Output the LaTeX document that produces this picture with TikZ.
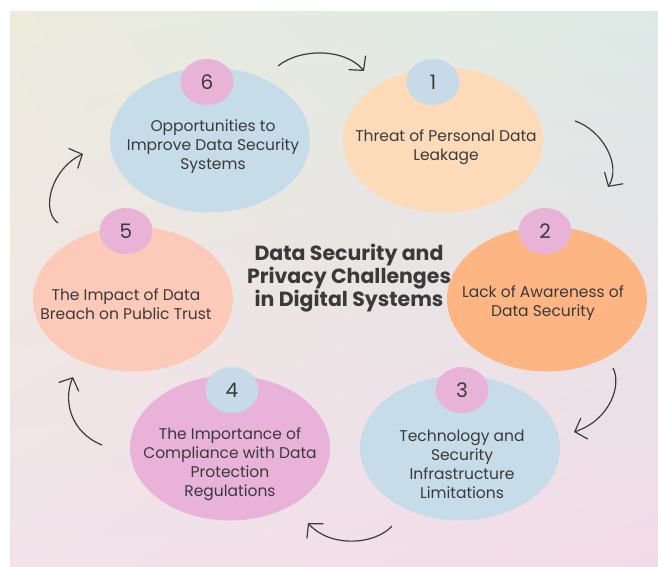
\documentclass[tikz,border=0pt]{standalone}
\usepackage{fontspec}
\setmainfont{Poppins}
\usetikzlibrary{shapes.geometric,arrows.meta,shadings}
\definecolor{bgUL}{HTML}{ECEBDC}
\definecolor{bgUR}{HTML}{DCEAE6}
\definecolor{bgLL}{HTML}{F2E3EA}
\definecolor{bgLR}{HTML}{F2DBE8}
\definecolor{blobblue}{HTML}{C6DCE8}
\definecolor{blobpeach}{HTML}{FDDBB8}
\definecolor{bloborange}{HTML}{FDB583}
\definecolor{blobpink}{HTML}{E8B2D9}
\definecolor{blobsalmon}{HTML}{FDC9B9}
\definecolor{circpink}{HTML}{E9B3D8}
\definecolor{circblue}{HTML}{C6DAE8}
\definecolor{txtgray}{HTML}{3A3A3A}
\definecolor{arrowgray}{HTML}{3C3C3C}
\begin{document}
\begin{tikzpicture}[x=1pt,y=-1pt,
  blob/.style={ellipse, inner sep=0pt, minimum width=200pt, minimum height=145pt},
  numcirc/.style={ellipse, inner sep=0pt, minimum width=53pt, minimum height=46pt,
    font=\fontsize{20}{20}\selectfont, text=txtgray},
  label/.style={align=center, text=txtgray, font=\fontsize{15.5}{19}\selectfont, inner sep=0pt},
  titletext/.style={align=center, text=txtgray, font=\bfseries\fontsize{20.5}{19.5}\selectfont, inner sep=0pt},
  cyclearrow/.style={draw=arrowgray, line width=1.2pt, -{Straight Barb[length=10pt,width=22pt,line width=1.2pt]}}
]
\useasboundingbox (0,0) rectangle (658,567);
\fill[white] (0,0) rectangle (658,567);
\shade[upper left=bgUL, upper right=bgUR, lower left=bgLL, lower right=bgLR] (10,12) rectangle (658,567);

% blobs
\node[blob, fill=blobblue]   (b6) at (210,140) {};
\node[blob, fill=blobpeach]  (b1) at (443,140) {};
\node[blob, fill=bloborange] (b2) at (547,299) {};
\node[blob, fill=blobblue]   (b3) at (460,448) {};
\node[blob, fill=blobpink]   (b4) at (230,448) {};
\node[blob, fill=blobsalmon] (b5) at (133,299) {};

% number circles
\node[numcirc, fill=circpink] (n6) at (207,82) {6};
\node[numcirc, fill=circblue] (n1) at (433,82) {1};
\node[numcirc, fill=circpink] (n2) at (545,231) {2};
\node[numcirc, fill=circpink] (n3) at (462,390) {3};
\node[numcirc, fill=circblue] (n4) at (232,390) {4};
\node[numcirc, fill=circpink] (n5) at (126,231) {5};

% labels
\node[label] (t6) at (213,147) {Opportunities to\\Improve Data Security\\Systems};
\node[label] (t1) at (446,147) {Threat of Personal Data\\Leakage};
\node[label] (t2) at (543,303) {Lack of Awareness of\\Data Security};
\node[label] (t3) at (462,464) {Technology and\\Security\\Infrastructure\\Limitations};
\node[label] (t4) at (230,464) {The Importance of\\Compliance with Data\\Protection\\Regulations};
\node[label] (t5) at (126,304) {The Impact of Data\\Breach on Public Trust};

\node[titletext] (title) at (349,278) {Data Security and\\Privacy Challenges\\in Digital Systems};

% arrow end points
\coordinate (a1s) at (278,66);  \coordinate (a1e) at (364,71);
\coordinate (a2s) at (575,121); \coordinate (a2e) at (608,187);
\coordinate (a3s) at (613,368); \coordinate (a3e) at (574,432);
\coordinate (a4s) at (392,526); \coordinate (a4e) at (308,523);
\coordinate (a5s) at (102,445); \coordinate (a5e) at (73,377);
\coordinate (a6s) at (58,223);  \coordinate (a6e) at (83,154);

\draw[cyclearrow] (a1s) .. controls (300,48) and (345,48) .. (a1e);
\draw[cyclearrow] (a2s) .. controls (602,130) and (622,165) .. (a2e);
\draw[cyclearrow] (a3s) .. controls (622,385) and (610,420) .. (a3e);
\draw[cyclearrow] (a4s) .. controls (375,545) and (330,548) .. (a4e);
\draw[cyclearrow] (a5s) .. controls (70,432) and (63,400) .. (a5e);
\draw[cyclearrow] (a6s) .. controls (40,210) and (52,168) .. (a6e);
\end{tikzpicture}
\end{document}
